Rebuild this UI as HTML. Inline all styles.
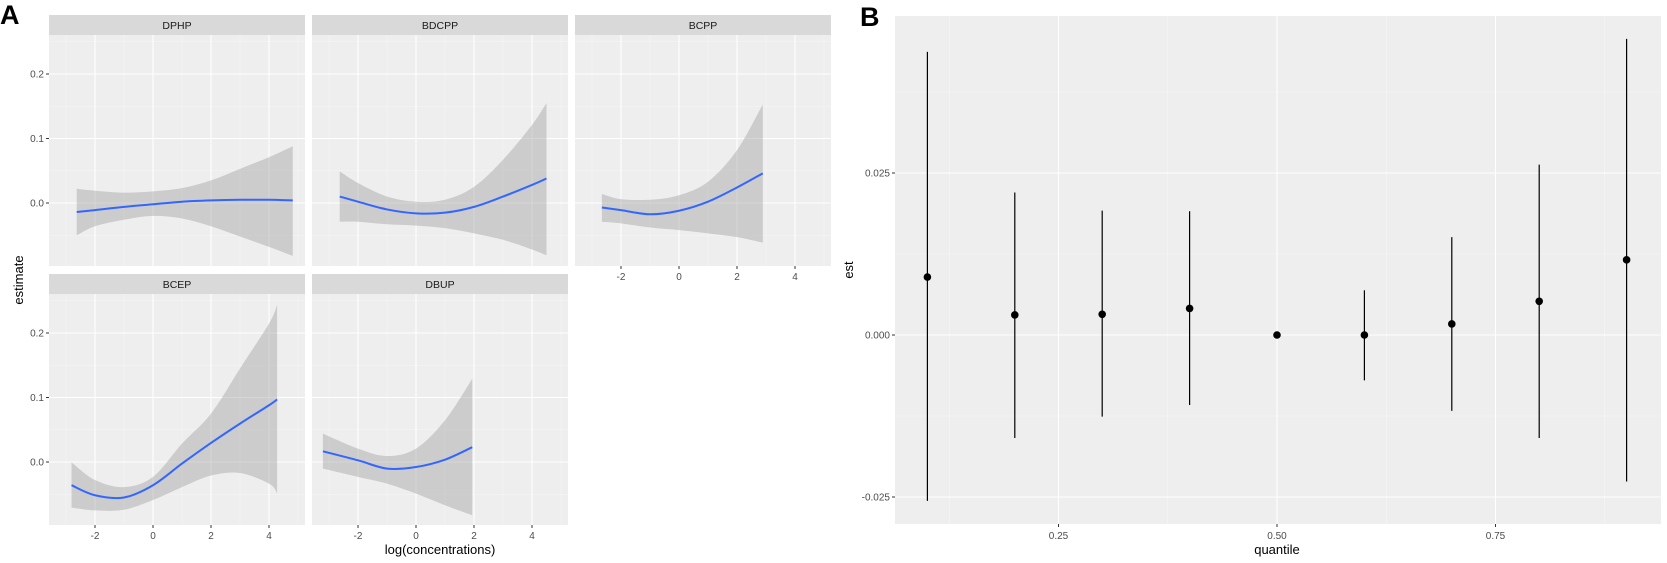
<!DOCTYPE html>
<html><head><meta charset="utf-8"><style>
body{margin:0;background:#fff;}
svg{display:block;font-family:"Liberation Sans",Arial,sans-serif;}
</style></head><body>
<svg id="s" width="1667" height="563" viewBox="0 0 1667 563"></svg>
<script>
// ---------- Panel A data ----------
const panelNames = ["DPHP","BDCPP","BCPP","BCEP","DBUP"];
const dphpX   = [-2.63,-2,-1,0,1,2,3,4,4.82];
const dphpFit = [-0.014,-0.011,-0.006,-0.002,0.002,0.004,0.005,0.005,0.004];
const dphpHi  = [0.022,0.019,0.016,0.018,0.023,0.035,0.053,0.071,0.088];
const dphpLo  = [-0.050,-0.036,-0.026,-0.020,-0.024,-0.036,-0.052,-0.068,-0.082];
const bdcppX   = [-2.63,-2,-1,0,1,2,3,4,4.5];
const bdcppFit = [0.010,0.002,-0.010,-0.016,-0.015,-0.006,0.010,0.028,0.038];
const bdcppHi  = [0.049,0.031,0.010,0.002,0.005,0.025,0.067,0.121,0.155];
const bdcppLo  = [-0.029,-0.029,-0.033,-0.035,-0.039,-0.047,-0.057,-0.072,-0.081];
const bcppX   = [-2.66,-2,-1,0,1,2,2.89];
const bcppFit = [-0.007,-0.011,-0.0175,-0.012,0.002,0.024,0.046];
const bcppHi  = [0.014,0.006,0.005,0.012,0.033,0.082,0.153];
const bcppLo  = [-0.029,-0.0315,-0.038,-0.042,-0.047,-0.053,-0.0615];
const bcepX   = [-2.81,-2,-1,0,1,2,3,4,4.28];
const bcepFit = [-0.036,-0.0516,-0.055,-0.036,-0.0025,0.0295,0.0595,0.088,0.097];
const bcepHi  = [-0.0005,-0.028,-0.039,-0.023,0.0285,0.075,0.145,0.2145,0.243];
const bcepLo  = [-0.0707,-0.075,-0.074,-0.059,-0.039,-0.021,-0.017,-0.0335,-0.048];
const dbupX   = [-3.21,-2,-1,0,1,1.94];
const dbupFit = [0.0166,0.0026,-0.0102,-0.0078,0.0036,0.023];
const dbupHi  = [0.044,0.0208,0.0093,0.0208,0.0647,0.129];
const dbupLo  = [-0.0102,-0.023,-0.0335,-0.049,-0.067,-0.0826];
const aXTicks = [-2,0,2,4];
const aXTickLabels = ["-2","0","2","4"];
const aYTicks = [0.0,0.1,0.2];
const aYTickLabels = ["0.0","0.1","0.2"];
// ---------- Panel B data ----------
const quantiles = [0.1,0.2,0.3,0.4,0.5,0.6,0.7,0.8,0.9];
const estValues = [0.00895,0.0031,0.0032,0.0041,0.0,0.0,0.0017,0.0052,0.0116];
const estUpper  = [0.0437,0.0220,0.0192,0.0191,0.0,0.0069,0.0151,0.0263,0.0457];
const estLower  = [-0.0256,-0.0159,-0.0126,-0.0108,0.0,-0.0070,-0.0117,-0.0159,-0.0226];
const bXTicks = [0.25,0.5,0.75];
const bXTickLabels = ["0.25","0.50","0.75"];
const bYTicks = [-0.025,0,0.025];
const bYTickLabels = ["-0.025","0.000","0.025"];

const NS="http://www.w3.org/2000/svg";
const svg=document.getElementById('s');
const BG='#eeeeee';
function mk(tag,attrs,parent){const e=document.createElementNS(NS,tag);for(const k in attrs)e.setAttribute(k,attrs[k]);(parent||svg).appendChild(e);return e;}
function txt(s,attrs,parent){const e=mk('text',attrs,parent);e.textContent=s;return e;}
function spline(pts){let d="M"+pts[0][0]+","+pts[0][1];for(let i=0;i<pts.length-1;i++){const p0=pts[Math.max(i-1,0)],p1=pts[i],p2=pts[i+1],p3=pts[Math.min(i+2,pts.length-1)];const c1x=p1[0]+(p2[0]-p0[0])/6,c1y=p1[1]+(p2[1]-p0[1])/6,c2x=p2[0]-(p3[0]-p1[0])/6,c2y=p2[1]-(p3[1]-p1[1])/6;d+=" C"+c1x+","+c1y+" "+c2x+","+c2y+" "+p2[0]+","+p2[1];}return d;}
function splineCont(pts){return spline(pts).replace(/^M/,"L");}

// Panel A layout
const colLeft=[49,312,575], colW=256;
const rowTop=[35,294], plotH=231, stripH=20;
const pxPerUnitX=29, zeroOffX=104;
const pxPerUnitY=645, zeroOffY=168;
const series=[[dphpX,dphpFit,dphpHi,dphpLo],[bdcppX,bdcppFit,bdcppHi,bdcppLo],[bcppX,bcppFit,bcppHi,bcppLo],[bcepX,bcepFit,bcepHi,bcepLo],[dbupX,dbupFit,dbupHi,dbupLo]];
const positions=[[0,0],[1,0],[2,0],[0,1],[1,1]];

txt("A",{x:0,y:24,'font-size':27,'font-weight':'bold',fill:'#000'});


positions.forEach((pos,i)=>{
  const L=colLeft[pos[0]], T=rowTop[pos[1]];
  const g=mk('g',{});
  
  
  const sx=v=>L+zeroOffX+v*pxPerUnitX, sy=v=>T+zeroOffY-v*pxPerUnitY;
  const st=mk('rect',{x:L,y:T-stripH,width:colW,height:stripH,fill:'#d9d9d9'},g);
  
  
  const sl=txt(panelNames[i],{x:L+colW/2,y:T-6,'text-anchor':'middle','font-size':10.5,fill:'#1a1a1a'},g);
  
  
  const bg=mk('rect',{x:L,y:T,width:colW,height:plotH,fill:BG},g);
  
  
  [-3,-1,1,3,5].forEach(v=>{const x=sx(v);if(x>L&&x<L+colW)mk('line',{x1:x,x2:x,y1:T,y2:T+plotH,stroke:'#f7f7f7','stroke-width':0.6},g);});
  [-0.05,0.05,0.15,0.25].forEach(v=>{const y=sy(v);if(y>T&&y<T+plotH)mk('line',{x1:L,x2:L+colW,y1:y,y2:y,stroke:'#f7f7f7','stroke-width':0.6},g);});
  aXTicks.forEach(v=>mk('line',{x1:sx(v),x2:sx(v),y1:T,y2:T+plotH,stroke:'#fff','stroke-width':1.1},g));
  aYTicks.forEach(v=>mk('line',{x1:L,x2:L+colW,y1:sy(v),y2:sy(v),stroke:'#fff','stroke-width':1.1},g));
  const [xs,fit,hi,lo]=series[i];
  const hiP=xs.map((x,k)=>[sx(x),sy(hi[k])]), loP=xs.map((x,k)=>[sx(x),sy(lo[k])]).reverse();
  const band=mk('path',{d:spline(hiP)+" L"+loP[0][0]+","+loP[0][1]+" "+splineCont(loP)+" Z",fill:'#999',opacity:0.4},g);
  
  
  const ln=mk('path',{d:spline(xs.map((x,k)=>[sx(x),sy(fit[k])])),fill:'none',stroke:'#3366ff','stroke-width':2},g);
  
  
  if(pos[0]===0){
    aYTicks.forEach((v,k)=>{mk('line',{x1:L-3,x2:L,y1:sy(v),y2:sy(v),stroke:'#333','stroke-width':1},g);
      const t=txt(aYTickLabels[k],{x:L-5,y:sy(v)+3.5,'text-anchor':'end','font-size':10,fill:'#4d4d4d'},g);
      
      });
  }
  if(pos[1]===1||pos[0]===2){
    aXTicks.forEach((v,k)=>{const by=T+plotH;mk('line',{x1:sx(v),x2:sx(v),y1:by,y2:by+3,stroke:'#333','stroke-width':1},g);
      const t=txt(aXTickLabels[k],{x:sx(v),y:by+14,'text-anchor':'middle','font-size':10,fill:'#4d4d4d'},g);
      
      });
  }
});
let t=txt("estimate",{x:0,y:0,transform:"translate(23,280) rotate(-90)",'text-anchor':'middle','font-size':13,fill:'#000'});


t=txt("log(concentrations)",{x:440,y:554,'text-anchor':'middle','font-size':13,fill:'#000'});



// Panel B
const BL=895,BR=1661,BT=16,BB=524;
const bx=v=>1277+(v-0.5)*874, by=v=>335-v*6480;
t=txt("B",{x:860,y:26,'font-size':27,'font-weight':'bold',fill:'#000'});


const gb=mk('g',{});


mk('rect',{x:BL,y:BT,width:BR-BL,height:BB-BT,fill:BG},gb);
[0.125,0.375,0.625,0.875].forEach(v=>mk('line',{x1:bx(v),x2:bx(v),y1:BT,y2:BB,stroke:'#f7f7f7','stroke-width':0.6},gb));
[-0.0375,-0.0125,0.0125,0.0375].forEach(v=>{const y=by(v);if(y>BT&&y<BB)mk('line',{x1:BL,x2:BR,y1:y,y2:y,stroke:'#f7f7f7','stroke-width':0.6},gb);});
bXTicks.forEach((v,k)=>{mk('line',{x1:bx(v),x2:bx(v),y1:BT,y2:BB,stroke:'#fff','stroke-width':1.1},gb);
  mk('line',{x1:bx(v),x2:bx(v),y1:BB,y2:BB+3,stroke:'#333'},gb);
  const tl=txt(bXTickLabels[k],{x:bx(v),y:BB+15,'text-anchor':'middle','font-size':10,fill:'#4d4d4d'},gb);
  
  });
bYTicks.forEach((v,k)=>{mk('line',{x1:BL,x2:BR,y1:by(v),y2:by(v),stroke:'#fff','stroke-width':1.1},gb);
  mk('line',{x1:BL-3,x2:BL,y1:by(v),y2:by(v),stroke:'#333'},gb);
  const tl=txt(bYTickLabels[k],{x:BL-5,y:by(v)+3.5,'text-anchor':'end','font-size':10,fill:'#4d4d4d'},gb);
  
  });
quantiles.forEach((q,k)=>{
  const e=mk('line',{x1:bx(q),x2:bx(q),y1:by(estUpper[k]),y2:by(estLower[k]),stroke:'#000','stroke-width':1.2},gb);
  
  
  const c=mk('circle',{cx:bx(q),cy:by(estValues[k]),r:3.8,fill:'#000'},gb);
  
  
});
t=txt("est",{x:0,y:0,transform:"translate(853,270) rotate(-90)",'text-anchor':'middle','font-size':13,fill:'#000'});


t=txt("quantile",{x:1277,y:554,'text-anchor':'middle','font-size':13,fill:'#000'});


</script>
</body></html>
